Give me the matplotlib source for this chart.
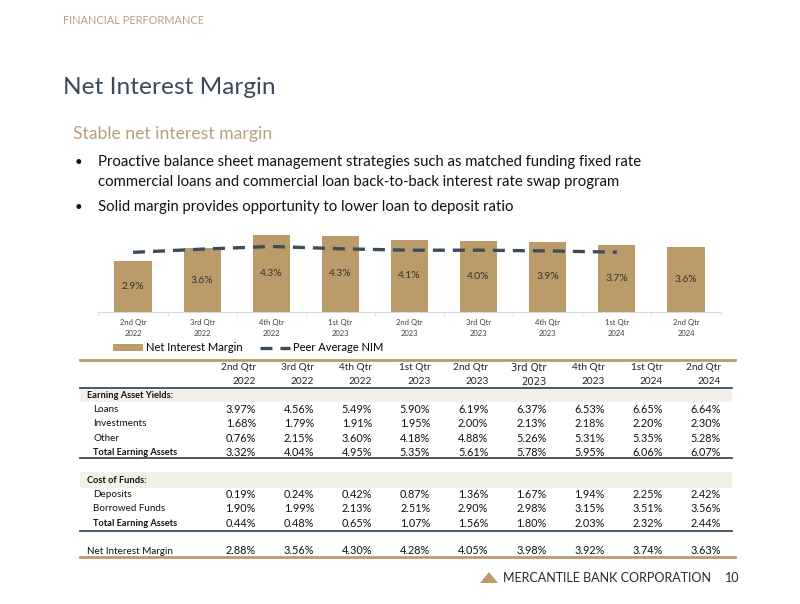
import matplotlib.pyplot as plt
from matplotlib.patches import Patch, Polygon
from matplotlib.lines import Line2D

# quarters shown in the chart and in the table
quarters = ["2nd Qtr", "3rd Qtr", "4th Qtr", "1st Qtr", "2nd Qtr",
            "3rd Qtr", "4th Qtr", "1st Qtr", "2nd Qtr"]
years = ["2022", "2022", "2022", "2023", "2023", "2023", "2023", "2024", "2024"]

# earning asset yields (%)
loans = [3.97, 4.56, 5.49, 5.90, 6.19, 6.37, 6.53, 6.65, 6.64]
investments = [1.68, 1.79, 1.91, 1.95, 2.00, 2.13, 2.18, 2.20, 2.30]
other = [0.76, 2.15, 3.60, 4.18, 4.88, 5.26, 5.31, 5.35, 5.28]
total_assets = [3.32, 4.04, 4.95, 5.35, 5.61, 5.78, 5.95, 6.06, 6.07]

# cost of funds (%)
deposits = [0.19, 0.24, 0.42, 0.87, 1.36, 1.67, 1.94, 2.25, 2.42]
borrowed = [1.90, 1.99, 2.13, 2.51, 2.90, 2.98, 3.15, 3.51, 3.56]
total_funds = [0.44, 0.48, 0.65, 1.07, 1.56, 1.80, 2.03, 2.32, 2.44]

nim = [2.88, 3.56, 4.30, 4.28, 4.05, 3.98, 3.92, 3.74, 3.63]
bar_labels = ["2.9%", "3.6%", "4.3%", "4.3%", "4.1%", "4.0%", "3.9%", "3.7%", "3.6%"]
peer_nim = [3.34, 3.52, 3.67, 3.54, 3.46, 3.46, 3.42, 3.35]

TAN = "#BC9B6A"
SLATE = "#3C4C5A"
W, H = 800, 604
plt.rcParams["font.family"] = ["Lato", "DejaVu Sans"]

fig = plt.figure(figsize=(8, 6.04), dpi=100)

# full-page canvas in pixel units for the slide text and the table
pg = fig.add_axes([0, 0, 1, 1])
pg.set_xlim(0, W)
pg.set_ylim(H, 0)
pg.axis("off")
pg.patch.set_alpha(0)

pg.text(63, 21, "FINANCIAL PERFORMANCE", fontsize=7.9, color="#B6A07D", va="center")
pg.text(63, 88, "Net Interest Margin", fontsize=17.6, color="#3A4A5C", va="center")
pg.text(73, 134, "Stable net interest margin", fontsize=12.7, color="#B8A07E", va="center")
bullets = [(162, "Proactive balance sheet management strategies such as matched funding fixed rate"),
           (182, "commercial loans and commercial loan back-to-back interest rate swap program"),
           (207, "Solid margin provides opportunity to lower loan to deposit ratio")]
for i, (yy, txt) in enumerate(bullets):
    if i != 1:
        pg.text(75, yy, "\u2022", fontsize=9.5, color="#111111", va="center")
    pg.text(98, yy, txt, fontsize=10.7, color="#111111", va="center")

# chart
x = list(range(len(nim)))
ax = fig.add_axes([98.5 / W, 1 - 312 / H, 622 / W, 89.3 / H])
ax.bar(x, nim, width=0.54, color=TAN, zorder=2)
for xi, v, lab in zip(x, nim, bar_labels):
    ax.text(xi, v / 2, lab, ha="center", va="center", fontsize=7.4, color="#333333", zorder=3)
ax.plot(x[:len(peer_nim)], peer_nim, color=SLATE, lw=2.4, ls=(0, (3.6, 2.4)), zorder=4)
ax.set_xlim(-0.5, 8.5)
ax.set_ylim(0, 5)
for s in ["top", "right", "left"]:
    ax.spines[s].set_visible(False)
ax.spines["bottom"].set_color("#D9D9D9")
ax.set_yticks([])
ax.set_xticks(x)
ax.set_xticklabels([q + "\n" + y for q, y in zip(quarters, years)], fontsize=5.5,
                   color="#404040", linespacing=1.6)
ax.set_xticks([i - 0.5 for i in range(len(nim) + 1)], minor=True)
ax.tick_params(axis="x", which="major", length=0, pad=5)
ax.tick_params(axis="x", which="minor", length=3, color="#D9D9D9")
ax.patch.set_alpha(0)

handles = [Patch(facecolor=TAN, edgecolor="none"),
           Line2D([0], [0], color=SLATE, lw=2.4, ls=(0, (3.6, 2.4)))]
fig.legend(handles, ["Net Interest Margin", "Peer Average NIM"], loc="center left",
           bbox_to_anchor=(113 / W, 1 - 348 / H), ncol=2, frameon=False, fontsize=8,
           handlelength=2.7, handleheight=0.6, handletextpad=0.25, columnspacing=1.6,
           borderpad=0, borderaxespad=0)

# table
col_right = [256 + 58.1 * j for j in range(len(quarters))]
for j, (q, y) in enumerate(zip(quarters, years)):
    fam = ["DejaVu Sans"] if j == 5 else None
    fs = 7.2 if j == 5 else 7.2
    pg.text(col_right[j], 368, q, ha="right", va="center", fontsize=fs, color="#222222",
            family=fam)
    pg.text(col_right[j], 382, y, ha="right", va="center", fontsize=fs, color="#222222",
            family=fam)

pg.plot([80, 735], [360, 360], color=TAN, lw=2)
pg.plot([80, 732], [388, 388], color=SLATE, lw=1.3)
pg.fill_between([80, 732], 388.7, 401.5, color="#F3EFE9", lw=0)
pg.plot([80, 732], [458, 458], color=SLATE, lw=1.3)
pg.fill_between([80, 732], 472, 487.5, color="#F3EFE9", lw=0)
pg.plot([80, 732], [531, 531], color=SLATE, lw=1.3)
pg.plot([80, 735], [557, 557], color=TAN, lw=2)


def table_block(head, head_y, names, values, step=14.2):
    pg.text(87, head_y, head, fontsize=6.7, fontweight="bold", color="#111111", va="center")
    for i, (name, vals) in enumerate(zip(names, values)):
        yy = head_y + step * (i + 1)
        bold = name.startswith("Total")
        pg.text(93, yy, name, fontsize=6.7 if bold else 7.1,
                fontweight="bold" if bold else "normal", color="#111111", va="center")
        for j, v in enumerate(vals):
            pg.text(col_right[j], yy, f"{v:.2f}%", ha="right", va="center",
                    fontsize=7.8, color="#111111")


table_block("Earning Asset Yields:", 395.5,
            ["Loans", "Investments", "Other", "Total Earning Assets"],
            [loans, investments, other, total_assets])
table_block("Cost of Funds:", 480.5,
            ["Deposits", "Borrowed Funds", "Total Earning Assets"],
            [deposits, borrowed, total_funds])

pg.text(87, 551, "Net Interest Margin", fontsize=7.1, color="#111111", va="center")
for j, v in enumerate(nim):
    pg.text(col_right[j], 551, f"{v:.2f}%", ha="right", va="center", fontsize=7.8,
            color="#111111")

# footer
pg.add_patch(Polygon([[480, 583], [498, 583], [489, 572]], closed=True, color=TAN, lw=0))
pg.text(503, 578, "MERCANTILE BANK CORPORATION", fontsize=9, color="#2A2A2A", va="center")
pg.text(725, 578, "10", fontsize=9, color="#2A2A2A", va="center")

fig.savefig("out.png", dpi=100)
